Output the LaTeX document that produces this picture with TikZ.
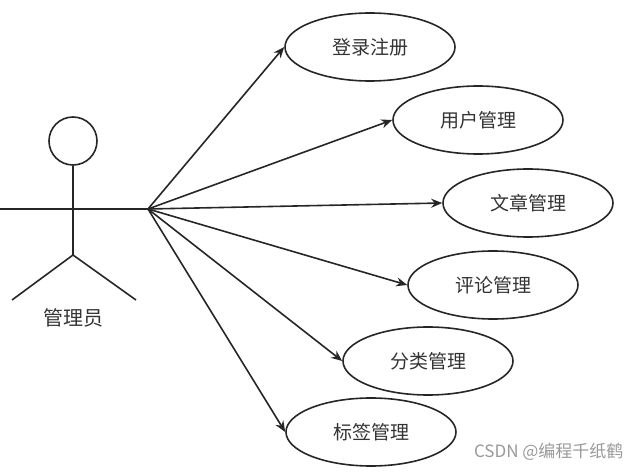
\documentclass[tikz,border=0pt]{standalone}
\usepackage{fontspec}
\newfontfamily\cjk{Noto Sans CJK SC}
\usepackage{tikz}
\usetikzlibrary{shapes.geometric,arrows.meta}
\tikzset{
  ucase/.style={ellipse, draw=black!85, line width=1.6pt, minimum width=170pt,
                minimum height=68pt, inner sep=0pt, font=\cjk\fontsize{19}{20}\selectfont,
                text=black!80},
  ucw/.style={line width=1.6pt, draw=black!85},
  uca/.style={ucw, -{Stealth[length=11pt,width=9pt]}},
  uclab/.style={font=\cjk\fontsize{20}{22}\selectfont, text=black!80}
}
\begin{document}
\begin{tikzpicture}[x=1pt,y=-1pt]
  \useasboundingbox (0,0) rectangle (641,473);
  % actor
  \node[circle, ucw, minimum size=48pt, inner sep=0pt] (head) at (73,141) {};
  \coordinate (hip) at (73,255);
  \coordinate (hub) at (148,209);
  \coordinate (armL) at (0,209);
  \coordinate (footL) at (12,300);
  \coordinate (footR) at (136,300);
  \draw[ucw] (head.south) -- (hip);
  \draw[ucw] (armL) -- (hub);
  \draw[ucw] (footL) -- (hip) -- (footR);
  \node[uclab] (actor) at (73,318) {管理员};
  % use cases
  \node[ucase] (login) at (370,47) {登录注册};
  \node[ucase] (user) at (478,120) {用户管理};
  \node[ucase] (article) at (528,203) {文章管理};
  \node[ucase] (comment) at (493,285) {评论管理};
  \node[ucase] (category) at (428,361) {分类管理};
  \node[ucase] (tag) at (371,432) {标签管理};
  \foreach \uc in {login,user,article,comment,category,tag}
    \draw[uca] (hub) -- (\uc.west);
  % watermark
  \node[font=\cjk\fontsize{17}{19}\selectfont, text=black!40, anchor=east] (mark) at (627,452) {CSDN @编程千纸鹤};
\end{tikzpicture}
\end{document}
